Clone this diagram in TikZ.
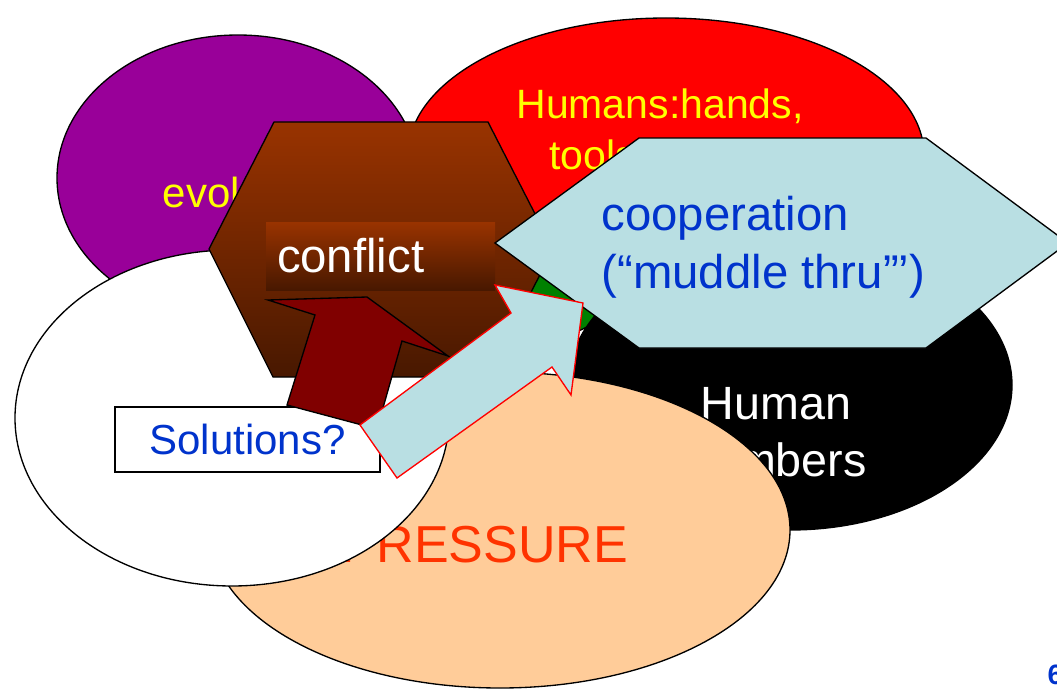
\documentclass[tikz,border=0pt]{standalone}
\usepackage{fontspec}
\setmainfont{Liberation Sans}
\usetikzlibrary{shapes.geometric}

\definecolor{blobpurple}{RGB}{153,0,153}
\definecolor{blobred}{RGB}{255,0,0}
\definecolor{blobgreen}{RGB}{0,128,0}
\definecolor{blobpeach}{RGB}{255,204,153}
\definecolor{browntop}{RGB}{153,51,0}
\definecolor{brownbottom}{RGB}{72,24,0}
\definecolor{arrowred}{RGB}{128,0,0}
\definecolor{paleblue}{RGB}{185,223,227}
\definecolor{textblue}{RGB}{0,51,204}
\definecolor{textyellow}{RGB}{255,255,0}
\definecolor{textorange}{RGB}{255,51,0}

\begin{document}
\begin{tikzpicture}[x=0.75pt, y=-0.75pt, line width=1pt,
blob_style/.style={ellipse, draw=black, inner sep=0pt},
label_style/.style={inner sep=0pt, align=center},
box_style/.style={rectangle, draw=black, fill=white, inner sep=0pt}]
\useasboundingbox (0,0) rectangle (1057,692);

\node[blob_style, fill=blobred, minimum width=387pt, minimum height=205.5pt] (humans) at (666,155) {};
\node[label_style, text=textyellow, font=\fontsize{30.75}{38.25}\selectfont] (humans_text) at (660,132) {Humans:hands,\\tools, brains};
\node[blob_style, fill=blobpurple, minimum width=271.5pt, minimum height=214.5pt] (evol) at (238,178) {};
\node[label_style, anchor=base, text=textyellow, font=\fontsize{31.5}{38}\selectfont] (evol_text) at (247,207) {evolution};
\node[blob_style, fill=blobgreen, minimum width=75pt, minimum height=52.5pt] (env) at (555,300) {};
\node[blob_style, fill=black, minimum width=333pt, minimum height=217.5pt] (numbers) at (790,385) {};
\node[label_style, text=white, font=\fontsize{35}{42.75}\selectfont] (numbers_text) at (776,432.5) {Human\\numbers};
\node[blob_style, fill=blobpeach, minimum width=435pt, minimum height=237pt] (pressure) at (500,530) {};
\node[label_style, anchor=base, text=textorange, font=\fontsize{39}{46}\selectfont] (pressure_text) at (485,562) {PRESSURE};
\node[blob_style, fill=white, minimum width=325.5pt, minimum height=252pt] (solve) at (232,418) {};

% conflict hexagon
\shadedraw[top color=browntop, bottom color=brownbottom, draw=black]
  (274,122) -- (488,122) -- (553,249) -- (488,377) -- (273,377) -- (209,249) -- cycle;
\node[shade, top color=browntop, bottom color=brownbottom, minimum height=51pt, text width=155.25pt,
  inner xsep=8.25pt, inner ysep=0pt, align=left, text=white, font=\fontsize{35.5}{40}\selectfont] (conflict) at (380.5,256) {conflict};

\node[box_style, minimum width=198.75pt, minimum height=48.75pt, text=textblue, font=\fontsize{31.5}{38}\selectfont] (solutions) at (247.5,439.5) {Solutions?};

% arrow up into conflict
\filldraw[fill=arrowred, draw=black]
  (287,405) -- (315,315) -- (268,300) -- (367,297) -- (448,356) -- (402,341) -- (377,429) -- cycle;

% cooperation hexagon
\filldraw[fill=paleblue, draw=black]
  (639,138) -- (926,138) -- (1068,243) -- (926,348) -- (639,348) -- (495,243) -- cycle;
\node[label_style, anchor=west, align=left, text=textblue, font=\fontsize{35.5}{43.5}\selectfont] (coop_text) at (601,247.5) {cooperation\\(“muddle thru”’)};

% arrow towards cooperation
\filldraw[fill=paleblue, draw=red]
  (360,425) -- (511,313) -- (495,285) -- (583,303) -- (571,395) -- (552,367) -- (397,478) -- cycle;

\node[inner sep=0pt, anchor=west, text=textblue, font=\fontsize{21}{25}\selectfont\bfseries] (page) at (1047,675) {6};
\end{tikzpicture}
\end{document}
